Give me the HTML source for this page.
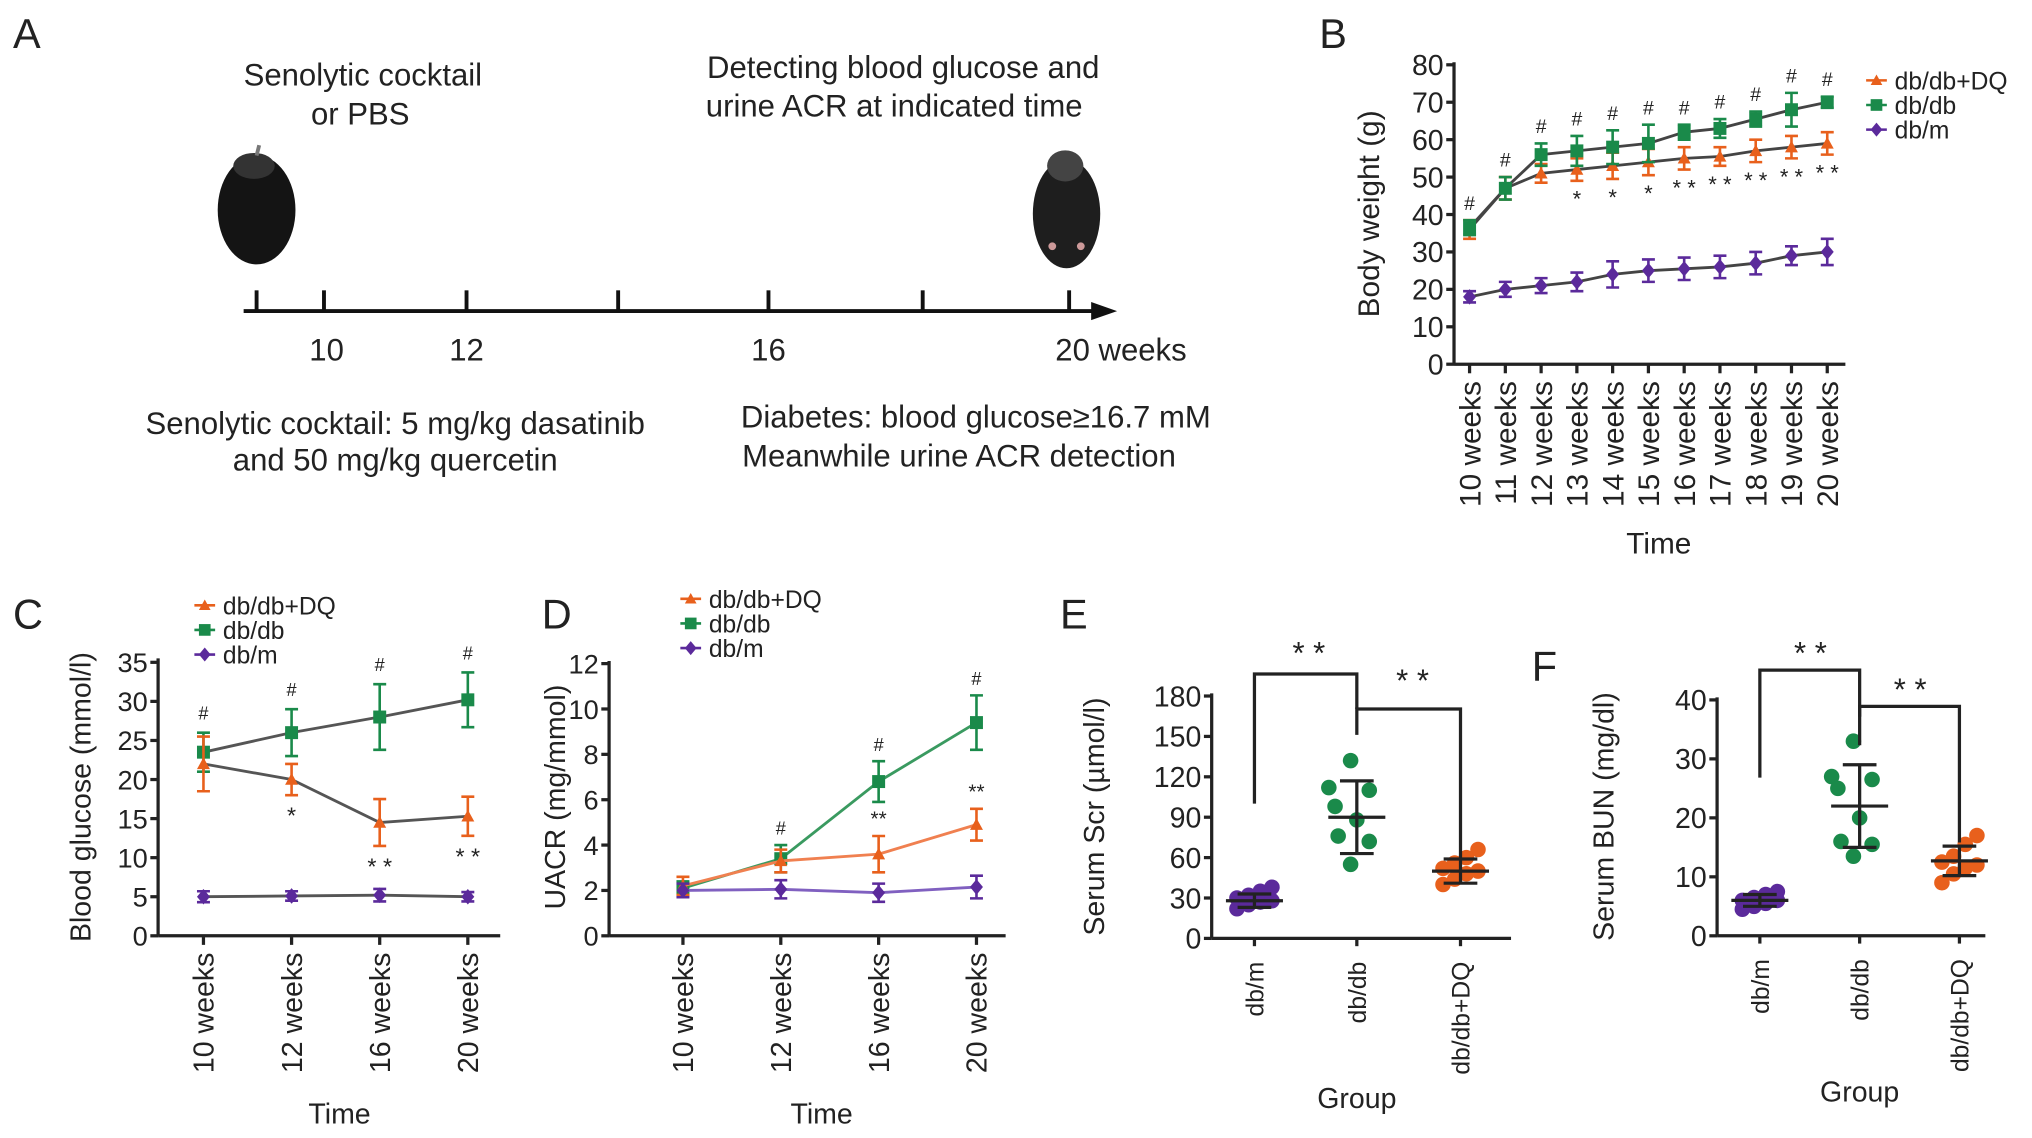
<!DOCTYPE html>
<html><head><meta charset="utf-8"><style>
html,body{margin:0;padding:0;background:#fff}
svg{display:block}
text{font-family:"Liberation Sans",sans-serif;fill:#222}
</style></head><body>
<svg id="fig" width="2032" height="1138" viewBox="0 0 1568 878" preserveAspectRatio="none" xmlns="http://www.w3.org/2000/svg">
<g font-size="24">
<text x="10" y="37" font-size="32">A</text>
<text x="280" y="66" text-anchor="middle">Senolytic cocktail</text>
<text x="278" y="96" text-anchor="middle">or PBS</text>
<text x="697" y="60" text-anchor="middle">Detecting blood glucose and</text>
<text x="690" y="90" text-anchor="middle">urine ACR at indicated time</text>
<g><ellipse cx="198" cy="162" rx="30" ry="42" fill="#141414"/><ellipse cx="196" cy="128" rx="16" ry="10" fill="#333"/><line x1="198" y1="120" x2="200" y2="112" stroke="#777" stroke-width="3"/></g>
<g><ellipse cx="823" cy="165" rx="26" ry="42" fill="#1e1e1e"/><ellipse cx="822" cy="128" rx="14" ry="12" fill="#444"/><circle cx="812" cy="190" r="3" fill="#c99"/><circle cx="834" cy="190" r="3" fill="#c99"/></g>
<g stroke="#111" stroke-width="3">
<line x1="188" y1="240" x2="848" y2="240"/>
<line x1="198" y1="224" x2="198" y2="240"/><line x1="250" y1="224" x2="250" y2="240"/><line x1="360" y1="224" x2="360" y2="240"/><line x1="477" y1="224" x2="477" y2="240"/><line x1="593" y1="224" x2="593" y2="240"/><line x1="712" y1="224" x2="712" y2="240"/><line x1="825" y1="224" x2="825" y2="240"/>
</g>
<polygon points="842,233 862,240 842,247" fill="#111"/>
<text x="252" y="278" text-anchor="middle">10</text>
<text x="360" y="278" text-anchor="middle">12</text>
<text x="593" y="278" text-anchor="middle">16</text>
<text x="865" y="278" text-anchor="middle">20 weeks</text>
<text x="305" y="335" text-anchor="middle">Senolytic cocktail: 5 mg/kg dasatinib</text>
<text x="305" y="363" text-anchor="middle">and 50 mg/kg quercetin</text>
<text x="753" y="330" text-anchor="middle">Diabetes: blood glucose≥16.7 mM</text>
<text x="740" y="360" text-anchor="middle">Meanwhile urine ACR detection</text>
</g>
<text x="1018" y="37" font-size="32">B</text>
<text x="10" y="485" font-size="32">C</text>
<text x="418" y="485" font-size="32">D</text>
<text x="818" y="485" font-size="32">E</text>
<text x="1182" y="525" font-size="32">F</text>
</svg>
<script>
const OR='#e8601c',GR='#1a8a4a',PU='#5b2a9b';
// Panel B data
const bWeeks=['10 weeks','11 weeks','12 weeks','13 weeks','14 weeks','15 weeks','16 weeks','17 weeks','18 weeks','19 weeks','20 weeks'];
const bTicks=[0,10,20,30,40,50,60,70,80];
const bDQ=[36,47,51,52,53,54,55,55.5,57,58,59];
const bDQerr=[2.5,3,2.5,3,3.5,3.5,3,2.5,3,3,3];
const bDB=[36.5,47,56,57,58,59,62,63,65.5,68,70];
const bDBerr=[2,3,3,4,4.5,5,2,2.5,2,4.5,1.5];
const bM=[18,20,21,22,24,25,25.5,26,27,29,30];
const bMerr=[1.5,2,2,2.5,3.5,3,3,3,3,2.5,3.5];
// Panel C data
const cWeeks=['10 weeks','12 weeks','16 weeks','20 weeks'];
const cTicks=[0,5,10,15,20,25,30,35];
const cDQ=[22,20,14.5,15.3];
const cDQerr=[3.5,2,3,2.5];
const cDB=[23.5,26,28,30.2];
const cDBerr=[2.5,3,4.2,3.5];
const cM=[5,5.1,5.2,5];
const cMerr=[0.7,0.6,0.8,0.6];
// Panel D data
const dTicks=[0,2,4,6,8,10,12];
const dDQ=[2.2,3.3,3.6,4.9];
const dDQerr=[0.4,0.5,0.8,0.7];
const dDB=[2.1,3.4,6.8,9.4];
const dDBerr=[0.3,0.6,0.9,1.2];
const dM=[2.0,2.05,1.9,2.15];
const dMerr=[0.3,0.4,0.4,0.5];
// Panel E data
const groups=['db/m','db/db','db/db+DQ'];
const eTicks=[0,30,60,90,120,150,180];
const eM=[22,25,27,28,30,32,35,38];
const eDB=[132,112,110,98,88,76,72,55];
const eDQ=[40,44,48,50,52,56,60,66];
const eMean=[28,90,50];
const eSD=[5,27,9];
// Panel F data
const fTicks=[0,10,20,30,40];
const fM=[4.5,5,5.5,6,6,6.5,7,7.5];
const fDB=[33,27,26.5,25,20,16,15.5,13.5];
const fDQ=[9,10.5,11.5,12,12.5,13.5,15.5,17];
const fMean=[6,22,12.7];
const fSD=[1,7,2.5];

const svg=document.getElementById('fig');
const NS='http://www.w3.org/2000/svg';
function el(tag,attrs,parent,txt){const e=document.createElementNS(NS,tag);for(const k in attrs)e.setAttribute(k,attrs[k]);if(txt!==undefined)e.textContent=txt;(parent||svg).appendChild(e);return e;}
function grp(name){const g=el('g',{});


return g;}
function axes(g,x0,x1,y0,y1,ticks,ys,fs){
 el('line',{x1:x0,y1:y1-2,x2:x0,y2:y0,stroke:'#222','stroke-width':2.5},g);
 el('line',{x1:x0,y1:y0,x2:x1,y2:y0,stroke:'#222','stroke-width':2.5},g);
 ticks.forEach(t=>{const y=ys(t);el('line',{x1:x0-6,y1:y,x2:x0,y2:y,stroke:'#222','stroke-width':2.5},g);
 const tx=el('text',{x:x0-8,y:y+fs*0.36,'text-anchor':'end','font-size':fs},g,String(t));
 
 });
}
function xlabels(g,xs,labels,ytop,fs){labels.forEach((l,i)=>{const x=xs(i);
 el('line',{x1:x,y1:ytop-12,x2:x,y2:ytop-6,stroke:'#222','stroke-width':2.5},g);
 const t=el('text',{x:0,y:0,'text-anchor':'end','font-size':fs,transform:`translate(${x+fs*0.36},${ytop}) rotate(-90)`},g,l);
 
 });}
function title(g,x,y,txt,rot,fs){const t=el('text',{x:0,y:0,'text-anchor':'middle','font-size':fs,transform:`translate(${x},${y})`+(rot?' rotate(-90)':'')},g,txt);
 
 }
function marker(g,x,y,shape,c,s){
 let m;
 if(shape==='tri') m=el('polygon',{points:`${x},${y-s} ${x-s},${y+s*0.8} ${x+s},${y+s*0.8}`,fill:c},g);
 else if(shape==='sq') m=el('rect',{x:x-s,y:y-s,width:2*s,height:2*s,fill:c},g);
 else m=el('polygon',{points:`${x},${y-s*1.2} ${x+s},${y} ${x},${y+s*1.2} ${x-s},${y}`,fill:c},g);
 
 
}
function series(g,xs,ys,vals,errs,c,shape,lineColor,name){
 const pts=vals.map((v,i)=>xs(i)+','+ys(v)).join(' ');
 const pl=el('polyline',{points:pts,fill:'none',stroke:lineColor,'stroke-width':2.2},g);
 
 
 vals.forEach((v,i)=>{const x=xs(i),yh=ys(v+errs[i]),yl=ys(v-errs[i]);
  const e=el('path',{d:`M${x},${yh}V${yl}M${x-5},${yh}H${x+5}M${x-5},${yl}H${x+5}`,stroke:c,'stroke-width':2,fill:'none'},g);
  
  
  marker(g,x,ys(v),shape,c,5);});
}
function legend(g,x,y,dy,fs){[['db/db+DQ',OR,'tri'],['db/db',GR,'sq'],['db/m',PU,'dia']].forEach((l,i)=>{
 const yy=y+i*dy;el('line',{x1:x-8,y1:yy,x2:x+8,y2:yy,stroke:l[1],'stroke-width':2},g);marker(g,x,yy,l[2],l[1],4.5);
 const t=el('text',{x:x+14,y:yy+7,'font-size':fs},g,l[0]);
 
 });}
function ann(g,x,y,t,fs){const a=el('text',{x:x,y:y,'text-anchor':'middle','font-size':fs},g,t);
 
 }

// Panel B
(function(){const g=grp('panel-b-chart');
 const ys=v=>281-v*(231/80), xs=i=>1134+i*27.6;
 axes(g,1122,1424,281,50,bTicks,ys,22);
 xlabels(g,xs,bWeeks,294,23);
 title(g,1064,165,'Body weight (g)',true,23);title(g,1280,427,'Time',false,23);
 series(g,xs,ys,bDQ,bDQerr,OR,'tri','#444','b-dbdbdq');
 series(g,xs,ys,bDB,bDBerr,GR,'sq','#444','b-dbdb');
 series(g,xs,ys,bM,bMerr,PU,'dia','#444','b-dbm');
 bDB.forEach((v,i)=>ann(g,xs(i),ys(v+bDBerr[i])-8,'#',15));
 bDQ.forEach((v,i)=>{if(i>=3)ann(g,xs(i),ys(v-bDQerr[i])+20,i>=6?'* *':'*',17);});
 legend(g,1448,62,19,19);})();
// Panel C
(function(){const g=grp('panel-c-chart');
 const ys=v=>722-v*(211/35), xs=i=>157+i*68;
 axes(g,122,386,722,510,cTicks,ys,21);
 xlabels(g,xs,cWeeks,735,22);
 title(g,70,615,'Blood glucose (mmol/l)',true,22);title(g,262,867,'Time',false,22);
 series(g,xs,ys,cDB,cDBerr,GR,'sq','#555','c-dbdb');
 series(g,xs,ys,cDQ,cDQerr,OR,'tri','#555','c-dbdbdq');
 series(g,xs,ys,cM,cMerr,PU,'dia','#555','c-dbm');
 cDB.forEach((v,i)=>ann(g,xs(i),ys(v+cDBerr[i])-10,'#',14));
 cDQ.forEach((v,i)=>{if(i>0)ann(g,xs(i),ys(v-cDQerr[i])+22,i>1?'* *':'*',18);});
 legend(g,158,467,19,19);})();
// Panel D
(function(){const g=grp('panel-d-chart');
 const ys=v=>722-v*(210/12), xs=i=>527+i*75.5;
 axes(g,470,776,722,512,dTicks,ys,21);
 xlabels(g,xs,cWeeks,735,22);
 title(g,436,615,'UACR (mg/mmol)',true,22);title(g,634,867,'Time',false,22);
 series(g,xs,ys,dDB,dDBerr,GR,'sq','#3a9a60','d-dbdb');
 series(g,xs,ys,dDQ,dDQerr,OR,'tri','#f08050','d-dbdbdq');
 series(g,xs,ys,dM,dMerr,PU,'dia','#8060c0','d-dbm');
 dDB.forEach((v,i)=>{if(i>0)ann(g,xs(i),ys(v+dDBerr[i])-8,'#',14);});
 dDQ.forEach((v,i)=>{if(i>1)ann(g,xs(i),ys(v+dDQerr[i])-8,'**',16);});
 legend(g,533,462,19,19);})();
function scatter(name,x0,x1,y0,y1,ticks,top,vals,means,sds,ytitle,tx,gy,br){
 const g=grp(name);
 const ys=v=>y0-v*((y0-y1)/top), gx=[br[0],br[1],br[2]];
 axes(g,x0,x1,y0,y1,ticks,ys,22);
 groups.forEach((l,i)=>{const x=gx[i];el('line',{x1:x,y1:y0,x2:x,y2:y0+6,stroke:'#222','stroke-width':2.5},g);
  const t=el('text',{x:0,y:0,'text-anchor':'end','font-size':19,transform:`translate(${x+7},${y0+18}) rotate(-90)`},g,l);
  
  });
 title(g,tx,630,ytitle,true,22);title(g,gx[1],gy,'Group',false,22);
 const cols=[PU,GR,OR];
 const offs=[[-14,-6,4,12,-10,0,8,16],[-4,-18,8,-14,0,-12,8,-4],[-20,-8,4,16,-14,0,12,-4]];
 vals.forEach((arr,gi)=>{arr.forEach((v,j)=>{const off=gi===1?offs[1][j]*1.2:((j%4)-1.5)*9;
  const d=el('circle',{cx:gx[gi]+off,cy:ys(v),r:6,fill:cols[gi]},g);
  
  });
  const x=gx[gi],m=ys(means[gi]),h=ys(means[gi]+sds[gi]),lo=ys(means[gi]-sds[gi]);
  const e=el('path',{d:`M${x-22},${m}H${x+22}M${x},${h}V${lo}M${x-13},${h}H${x+13}M${x-13},${lo}H${x+13}`,stroke:'#222','stroke-width':2.5,fill:'none'},g);
  
  });
 return {g,gx};
}
(function(){const r=scatter('panel-e-chart',935,1166,724,537,eTicks,180,[eM,eDB,eDQ],eMean,eSD,'Serum Scr (µmol/l)',852,855,[968,1047,1127]);
 const g=r.g;el('path',{d:'M968,620V520H1047V547',stroke:'#222','stroke-width':2.5,fill:'none'},g);
 el('path',{d:'M1047,567V547H1127V662',stroke:'#222','stroke-width':2.5,fill:'none'},g);
 ann(g,1010,512,'* *',24);ann(g,1090,533,'* *',24);})();
(function(){const r=scatter('panel-f-chart',1325,1532,722,540,fTicks,40,[fM,fDB,fDQ],fMean,fSD,'Serum BUN (mg/dl)',1245,850,[1358,1435,1512]);
 const g=r.g;el('path',{d:'M1358,600V517H1435V553',stroke:'#222','stroke-width':2.5,fill:'none'},g);
 el('path',{d:'M1435,575V545H1512V650',stroke:'#222','stroke-width':2.5,fill:'none'},g);
 ann(g,1397,512,'* *',24);ann(g,1474,540,'* *',24);})();
</script>
</body></html>
